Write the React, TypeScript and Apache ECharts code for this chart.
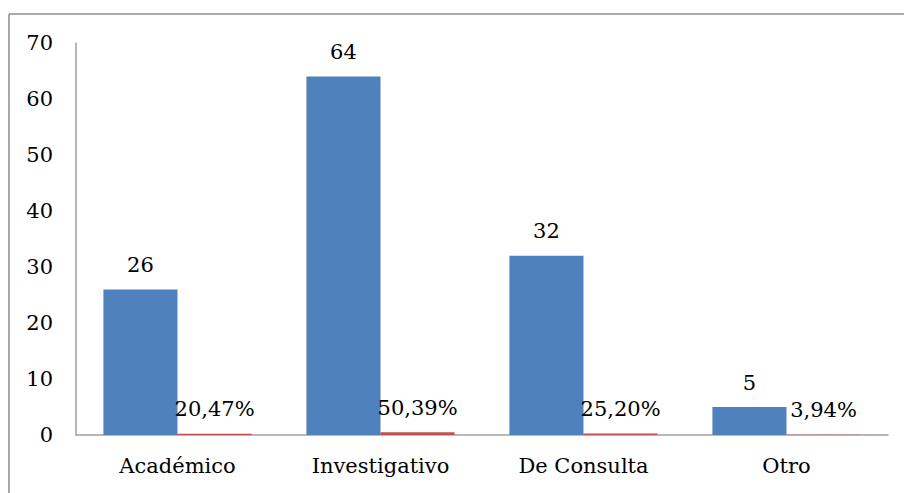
import React, { useEffect, useRef } from "react";
import * as echarts from "echarts";

const categories = ["Académico", "Investigativo", "De Consulta", "Otro"];
const counts = [26, 64, 32, 5];
const shares = [0.2047, 0.5039, 0.252, 0.0394];
const shareLabels = ["20,47%", "50,39%", "25,20%", "3,94%"];
const yTicks = { min: 0, max: 70, interval: 10 };

const FONT = "DejaVu Serif";

export default function App() {
  const ref = useRef<HTMLDivElement>(null);
  useEffect(() => {
    if (!ref.current) return;
    const chart = echarts.init(ref.current, null, { renderer: "svg" });
    chart.setOption({
      animation: false,
      backgroundColor: "#ffffff",
      textStyle: { fontFamily: FONT },
      grid: { left: 76, right: 16, top: 43, bottom: 58, containLabel: false },
      graphic: [
        { type: "line", shape: { x1: 9, y1: 14, x2: 904, y2: 14 }, style: { stroke: "#8c8c8c", lineWidth: 1.5 } },
        { type: "line", shape: { x1: 9, y1: 14, x2: 9, y2: 493 }, style: { stroke: "#8c8c8c", lineWidth: 1.5 } },
      ],
      xAxis: {
        type: "category",
        data: categories,
        axisLine: { lineStyle: { color: "#a0a0a0", width: 1.5 } },
        axisTick: { show: false },
        axisLabel: { color: "#000", fontSize: 21, fontFamily: FONT, margin: 20 },
      },
      yAxis: {
        type: "value",
        min: yTicks.min,
        max: yTicks.max,
        interval: yTicks.interval,
        axisLine: { show: true, lineStyle: { color: "#a0a0a0", width: 1.5 } },
        axisTick: { show: false },
        splitLine: { show: false },
        axisLabel: { color: "#000", fontSize: 21, fontFamily: FONT, margin: 23 },
      },
      series: [
        {
          type: "bar",
          data: counts,
          barGap: "0%",
          barCategoryGap: "27%",
          itemStyle: { color: "#4F81BD" },
          label: { show: true, position: "top", distance: 14, color: "#000", fontSize: 21, fontFamily: FONT },
        },
        {
          type: "bar",
          data: shares,
          itemStyle: { color: "#C0504D" },
          label: {
            show: true,
            position: "top",
            distance: 14,
            color: "#000",
            fontSize: 21,
            fontFamily: FONT,
            formatter: (p: any) => shareLabels[p.dataIndex],
          },
        },
      ],
    });
    return () => chart.dispose();
  }, []);
  return (
    <div
      ref={ref}
      style={{ position: "fixed", left: 0, top: 0, width: 904, height: 493, background: "#fff" }}
    />
  );
}
